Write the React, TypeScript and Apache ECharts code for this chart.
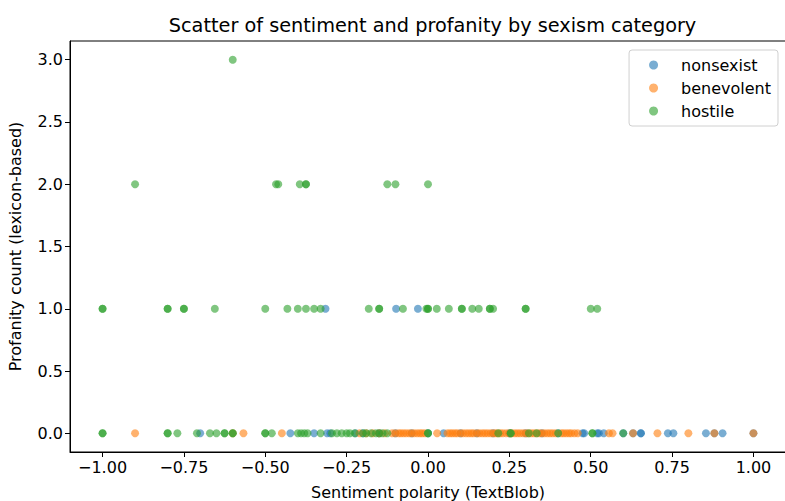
import React, { useEffect, useRef } from "react";
import * as echarts from "echarts";

const chartTitle = "Scatter of sentiment and profanity by sexism category";
const seriesNames = ["nonsexist", "benevolent", "hostile"];
const seriesColors = ["#1f77b4", "#ff7f0e", "#2ca02c"];
const xTicks = [-1, -0.75, -0.5, -0.25, 0, 0.25, 0.5, 0.75, 1];
const yTicks = [0, 0.5, 1, 1.5, 2, 2.5, 3];

// nonsexist
const nonsexistZeroX = [-0.7, -0.423, -0.35, -0.31, -0.3, -0.223, -0.2, -0.15, -0.1, -0.05, 0.0, 0.048, 0.1, 0.15, 0.2, 0.25, 0.3, 0.35, 0.4, 0.475, 0.48, 0.52, 0.525, 0.54, 0.6, 0.63, 0.654, 0.654, 0.737, 0.754, 0.854, 0.88, 0.905, 1.0];
const nonsexistOneX = [-0.315, -0.098, -0.031];

// benevolent
const benevolentZeroX = [-0.9, -0.6, -0.567, -0.449, -0.21, -0.19, -0.17, -0.15, -0.133, -0.11, -0.1, -0.09, -0.083, -0.075, -0.067, -0.058, -0.05, -0.042, -0.033, -0.025, -0.018, -0.01, 0.028, 0.06, 0.068, 0.075, 0.083, 0.09, 0.1, 0.108, 0.117, 0.125, 0.133, 0.14, 0.15, 0.158, 0.167, 0.175, 0.183, 0.192, 0.2, 0.207, 0.214, 0.222, 0.23, 0.24, 0.25, 0.258, 0.267, 0.275, 0.283, 0.292, 0.3, 0.308, 0.317, 0.325, 0.333, 0.342, 0.35, 0.358, 0.367, 0.375, 0.383, 0.392, 0.41, 0.417, 0.425, 0.433, 0.44, 0.45, 0.46, 0.556, 0.567, 0.63, 0.705, 0.8, 0.88, 1.0];

// hostile
const hostileZeroX = [-1.0, -1.0, -0.8, -0.8, -0.77, -0.71, -0.67, -0.65, -0.625, -0.625, -0.6, -0.6, -0.5, -0.5, -0.48, -0.4, -0.39, -0.38, -0.37, -0.33, -0.295, -0.28, -0.265, -0.25, -0.24, -0.225, -0.2, -0.19, -0.175, -0.16, -0.15, -0.14, -0.125, 0.0, 0.0, 0.216, 0.254, 0.254, 0.31, 0.334, 0.4, 0.505, 0.505, 0.6];
const hostileOneX = [-1.0, -1.0, -0.8, -0.8, -0.75, -0.75, -0.655, -0.5, -0.432, -0.4, -0.375, -0.35, -0.33, -0.182, -0.15, -0.15, -0.077, -0.005, 0.0, 0.0, 0.027, 0.064, 0.104, 0.104, 0.136, 0.156, 0.19, 0.19, 0.2, 0.3, 0.3, 0.5, 0.52];
const hostileTwoX = [-0.9, -0.467, -0.46, -0.394, -0.375, -0.375, -0.125, -0.1, 0.0];
const hostileThreeX = [-0.6];

const pts = (xs: number[], y: number) => xs.map((x) => [x, y]);

const fmt = (v: number, d: number) => v.toFixed(d).replace("-", "\u2212");

const FONT = "DejaVu Sans";
const FS = 16;

export default function App() {
  const ref = useRef<HTMLDivElement>(null);
  useEffect(() => {
    if (!ref.current) return;
    const chart = echarts.init(ref.current, undefined, { renderer: "svg" });
    const data = [
      [...pts(nonsexistZeroX, 0), ...pts(nonsexistOneX, 1)],
      [...pts(benevolentZeroX, 0)],
      [...pts(hostileZeroX, 0), ...pts(hostileOneX, 1), ...pts(hostileTwoX, 2), ...pts(hostileThreeX, 3)],
    ];
    chart.setOption({
      animation: false,
      backgroundColor: "#fff",
      textStyle: { fontFamily: FONT },
      title: {
        text: chartTitle,
        left: 427.5,
        textAlign: "center",
        top: 11,
        textStyle: { fontFamily: FONT, fontSize: 19.3, fontWeight: "normal", color: "#000" },
      },
      legend: {
        orient: "vertical",
        right: 7,
        top: 50,
        padding: [7, 7, 7, 20],
        itemGap: 7,
        itemWidth: 9,
        itemHeight: 9,
        icon: "circle",
        borderColor: "#d0d0d0",
        borderWidth: 1,
        borderRadius: 3,
        backgroundColor: "rgba(255,255,255,0.8)",
        textStyle: { fontFamily: FONT, fontSize: FS, color: "#000", padding: [0, 0, 0, 18] },
        data: seriesNames,
      },
      grid: { left: 70, top: 41, right: -1, bottom: 49, outerBoundsMode: "none", containLabel: false, show: true, borderColor: "#000", borderWidth: 1 },
      xAxis: {
        type: "value",
        min: -1.1,
        max: 1.1,
        name: "Sentiment polarity (TextBlob)",
        nameLocation: "middle",
        nameGap: 32,
        nameTextStyle: { fontFamily: FONT, fontSize: FS, color: "#000" },
        axisLine: { show: true, onZero: false, lineStyle: { color: "#000" } },
        axisTick: { show: true, inside: false, length: 5, customValues: xTicks, lineStyle: { color: "#000" } },
        axisLabel: { customValues: xTicks, formatter: (v: number) => fmt(v, 2), fontFamily: FONT, fontSize: FS, color: "#000", margin: 7 },
        splitLine: { show: false },
      },
      yAxis: {
        type: "value",
        min: -0.15,
        max: 3.15,
        name: "Profanity count (lexicon-based)",
        nameLocation: "middle",
        nameGap: 47,
        nameTextStyle: { fontFamily: FONT, fontSize: FS, color: "#000" },
        axisLine: { show: true, onZero: false, lineStyle: { color: "#000" } },
        axisTick: { show: true, inside: false, length: 5, customValues: yTicks, lineStyle: { color: "#000" } },
        axisLabel: { customValues: yTicks, formatter: (v: number) => fmt(v, 1), fontFamily: FONT, fontSize: FS, color: "#000", margin: 7 },
        splitLine: { show: false },
      },
      series: seriesNames.map((name, i) => ({
        name,
        type: "scatter",
        symbol: "circle",
        symbolSize: 8,
        data: data[i],
        itemStyle: { color: seriesColors[i], opacity: 0.6 },
        emphasis: { disabled: true },
      })),
    });
    return () => chart.dispose();
  }, []);
  return <div ref={ref} style={{ position: "fixed", left: 0, top: 0, width: 785, height: 501 }} />;
}
